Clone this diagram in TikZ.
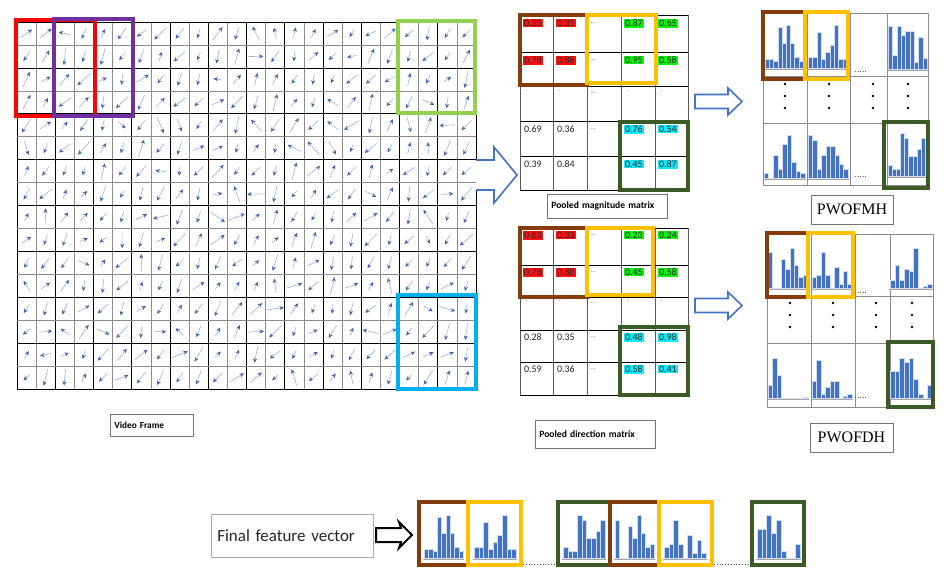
\documentclass[tikz,border=0pt]{standalone}
\usepackage{fontspec}
\setmainfont{Carlito}
\newfontfamily\pwserif{Liberation Serif}
\usetikzlibrary{arrows.meta}
\definecolor{fbrown}{HTML}{843C0C}
\definecolor{fgold}{HTML}{FFC000}
\definecolor{fdkgreen}{HTML}{3B5A26}
\definecolor{flgreen}{HTML}{92D050}
\definecolor{fcyan}{HTML}{00B0F0}
\definecolor{fpurple}{HTML}{7030A0}
\definecolor{fbar}{HTML}{4472C4}
\definecolor{farrowline}{HTML}{9AB2DE}
\definecolor{farrowhead}{HTML}{3F62A8}
\definecolor{hlred}{HTML}{FF1010}
\definecolor{hlgreen}{HTML}{10F010}
\definecolor{hlcyan}{HTML}{10E8F8}
\newcommand\histo[5]{%
  \draw[black!35, line width=0.5] (#1-1,#3+1.5) -- (#2+1,#3+1.5);
  \foreach \hh [count=\k from 0] in {#5}{%
    \fill[fbar] ({#1+\k*(#2-#1)/9},#3) rectangle ++({(#2-#1)/9},{-\hh*#4});
    \draw[white!75!fbar, line width=0.2] ({#1+\k*(#2-#1)/9},#3) rectangle ++({(#2-#1)/9},{-\hh*#4});
  }%
}
\tikzset{
  flowarrow/.style={draw=farrowline, line width=0.6, -{Stealth[length=4.5pt,width=4pt,color=farrowhead]}},
  selbox/.style={line width=4},
  mnum/.style={anchor=north west, inner sep=0.8pt, font=\fontsize{10}{12}\selectfont, text=black!85},
  mdots/.style={anchor=north west, inner sep=0.5pt, font=\fontsize{7}{8}\selectfont, text=black!55},
  hr/.style={fill=hlred},
  hg/.style={fill=hlgreen},
  hc/.style={fill=hlcyan},
  labelbox/.style={draw=black!55, line width=0.6, inner sep=0pt},
  blockarrow/.style={draw=fbar, line width=1.6, fill=white, line join=miter},
  hdot/.style={fill=black, draw=none, circle, inner sep=0pt, minimum size=2.8pt},
}
\begin{document}
\begin{tikzpicture}[x=1pt,y=-1pt]
\useasboundingbox (0,0) rectangle (945,581);
\fill[white] (0,0) rectangle (945,581);

% ---------------- video frame grid ----------------
\foreach \i in {0,...,24}{
  \ifodd\i
    \draw[black!45, line width=0.6] ({17+\i*19.125},22) -- ++(0,367);
  \else
    \draw[black, line width=0.7] ({17+\i*19.125},22) -- ++(0,367);
  \fi
}
\foreach \j in {0,...,16}{
  \ifodd\j
    \draw[black!45, line width=0.6] (17,{22+\j*22.9375}) -- ++(459,0);
  \else
    \draw[black, line width=0.7] (17,{22+\j*22.9375}) -- ++(459,0);
  \fi
}
\pgfmathsetseed{31}
\foreach \c in {0,...,23}{
  \foreach \r in {0,...,15}{
    \pgfmathsetmacro\ang{rnd<0.45 ? 215+rnd*50 : (rnd<0.5 ? 20+rnd*60 : rnd*360)}
    \pgfmathsetmacro\len{4+rnd*5}
    \pgfmathsetmacro\cx{17+(\c+0.5)*19.125}
    \pgfmathsetmacro\cy{22+(\r+0.5)*22.9375}
    \draw[flowarrow] ({\cx-\len*cos(\ang)},{\cy+\len*sin(\ang)}) -- ({\cx+\len*cos(\ang)},{\cy-\len*sin(\ang)});
  }
}
\draw[selbox, red] (16,20) rectangle (95,116);
\draw[selbox, fpurple] (54,19) rectangle (133,116);
\draw[selbox, flgreen] (398,21) rectangle (475,113);
\draw[selbox, fcyan] (398,295) rectangle (476,389);

\node[labelbox, anchor=west, minimum height=22, text width=75pt, inner xsep=4pt,
  font=\bfseries\fontsize{9.3}{10}\selectfont] (vf) at (110,425) {Video Frame};

% ---------------- big arrow grid -> matrix ----------------
\draw[blockarrow] (476,160) -- (494,160) -- (494,147) -- (517,175) -- (494,203) -- (494,190) -- (476,190);

% ---------------- pooled magnitude matrix ----------------
\foreach \x in {520,553,587,621,655,688}{\draw[black!65, line width=0.7] (\x,15) -- (\x,190);}
\foreach \y in {15,52,86,121,156,190}{\draw[black, line width=0.7] (520,\y) -- (688,\y);}
\node[mnum,hr] (a00) at (523,19) {0.35};
\node[mnum,hr] (a01) at (556,19) {0.35};
\node[mdots]   (a02) at (590,22) {...};
\node[mnum,hg] (a03) at (624,19) {0.87};
\node[mnum,hg] (a04) at (658,19) {0.65};
\node[mnum,hr] (a10) at (523,56) {0.78};
\node[mnum,hr] (a11) at (556,56) {0.88};
\node[mdots]   (a12) at (590,59) {...};
\node[mnum,hg] (a13) at (624,56) {0.95};
\node[mnum,hg] (a14) at (658,56) {0.58};
\node[mdots]   (a20) at (525,90) {.};
\node[mdots]   (a21) at (558,90) {.};
\node[mdots]   (a22) at (590,92) {...};
\node[mdots]   (a23) at (626,90) {.};
\node[mdots]   (a24) at (660,90) {.};
\node[mnum]    (a30) at (523,125) {0.69};
\node[mnum]    (a31) at (556,125) {0.36};
\node[mdots]   (a32) at (590,128) {...};
\node[mnum,hc] (a33) at (624,125) {0.76};
\node[mnum,hc] (a34) at (658,125) {0.54};
\node[mnum]    (a40) at (523,160) {0.39};
\node[mnum]    (a41) at (556,160) {0.84};
\node[mnum,hc] (a43) at (624,160) {0.45};
\node[mnum,hc] (a44) at (658,160) {0.87};
\draw[selbox, fbrown] (520,15) rectangle (587,85);
\draw[selbox, fgold] (587,15) rectangle (656,83);
\draw[selbox, fdkgreen] (620,122) rectangle (688,190);
\node[labelbox, anchor=west, minimum height=24, text width=112pt, inner xsep=4pt,
  font=\bfseries\fontsize{9.6}{11}\selectfont] (pmm) at (547,206) {Pooled magnitude matrix};

% ---------------- pooled direction matrix ----------------
\foreach \x in {520,553,587,621,655,688}{\draw[black!65, line width=0.7] (\x,228) -- (\x,395);}
\foreach \y in {228,265,297,330,362,395}{\draw[black, line width=0.7] (520,\y) -- (688,\y);}
\node[mnum,hr] (b00) at (523,231) {0.63};
\node[mnum,hr] (b01) at (556,231) {0.33};
\node[mdots]   (b02) at (590,234) {...};
\node[mnum,hg] (b03) at (624,231) {0.23};
\node[mnum,hg] (b04) at (658,231) {0.24};
\node[mnum,hr] (b10) at (523,268) {0.78};
\node[mnum,hr] (b11) at (556,268) {0.88};
\node[mdots]   (b12) at (590,271) {...};
\node[mnum,hg] (b13) at (624,268) {0.45};
\node[mnum,hg] (b14) at (658,268) {0.58};
\node[mdots]   (b20) at (525,300) {.};
\node[mdots]   (b21) at (558,300) {.};
\node[mdots]   (b22) at (590,302) {...};
\node[mdots]   (b23) at (626,300) {.};
\node[mdots]   (b24) at (660,300) {.};
\node[mnum]    (b30) at (523,333) {0.28};
\node[mnum]    (b31) at (556,333) {0.35};
\node[mdots]   (b32) at (590,336) {...};
\node[mnum,hc] (b33) at (624,333) {0.48};
\node[mnum,hc] (b34) at (658,333) {0.98};
\node[mnum]    (b40) at (523,365) {0.59};
\node[mnum]    (b41) at (556,365) {0.36};
\node[mdots]   (b42) at (590,368) {...};
\node[mnum,hc] (b43) at (624,365) {0.58};
\node[mnum,hc] (b44) at (658,365) {0.41};
\draw[selbox, fbrown] (520,228) rectangle (587,297);
\draw[selbox, fgold] (587,228) rectangle (653,295);
\draw[selbox, fdkgreen] (620,327) rectangle (688,395);
\node[labelbox, anchor=west, minimum height=28, text width=112pt, inner xsep=4pt,
  font=\bfseries\fontsize{9.6}{11}\selectfont] (pdm) at (535,434) {Pooled direction matrix};

% ---------------- arrows matrix -> histograms ----------------
\draw[blockarrow] (695,94.5) -- (728,94.5) -- (728,88) -- (742,101.5) -- (728,115) -- (728,108.5) -- (695,108.5) -- cycle;
\draw[blockarrow] (695,298.5) -- (728,298.5) -- (728,292) -- (742,305.5) -- (728,319) -- (728,312.5) -- (695,312.5) -- cycle;

% ---------------- PWOFMH ----------------
\foreach \x in {763,807,850,887,928}{\draw[black!45, line width=0.7] (\x,13) -- (\x,185);}
\foreach \y in {13,76,123,185}{\draw[black!45, line width=0.7] (763,\y) -- (928,\y);}
\histo{765}{803}{68}{45}{0.2,0.2,0.15,0.9,0.55,0.95,0.55,0.25,0.15}
\histo{808}{847}{68}{45}{0.25,0.25,0.8,0.2,0.35,0.5,0.95,0.2,0.2}
\histo{888}{927}{69}{45}{0.95,0.3,0.95,0.75,0.85,0.85,0.15,0.7,0.25}
\histo{764}{805}{178}{45}{0.1,0.0,0.5,0.2,0.75,0.95,0.35,0.15,0.12}
\histo{808}{848}{178}{45}{0.95,0.85,0.2,0.5,0.7,0.7,0.5,0.3,0.2}
\histo{888}{925}{176}{45}{0.25,0.15,0.15,0.95,0.85,0.45,0.45,0.6,0.85}
\draw[black!60, dotted, line width=0.6] (855,71) -- (866,71);
\draw[black!60, dotted, line width=0.6] (855,176) -- (866,176);
\foreach \x [count=\k] in {785,829,873,908}{
  \node[hdot] (mdA\k) at (\x,84) {};
  \node[hdot] (mdB\k) at (\x,96) {};
  \node[hdot] (mdC\k) at (\x,108) {};
}
\draw[selbox, fbrown] (763,12) rectangle (805,79);
\draw[selbox, fgold] (805,12) rectangle (848,79);
\draw[selbox, fdkgreen] (884,122) rectangle (928,188);
\node[labelbox, minimum width=82, minimum height=29, font=\pwserif\fontsize{16}{18}\selectfont] (pwm) at (852,209.5) {PWOFMH};

% ---------------- PWOFDH ----------------
\foreach \x in {767,811,855,890,933}{\draw[black!45, line width=0.7] (\x,234) -- (\x,407);}
\foreach \y in {234,296,343,407}{\draw[black!45, line width=0.7] (767,\y) -- (933,\y);}
\histo{768}{807}{288}{42}{0.85,0,0,0.7,0.45,0.95,0.55,0.25,0.3}
\histo{812}{852}{288}{42}{0.25,0.3,0.85,0.3,0,0.5,0.1,0.4,0.1}
\histo{890}{932}{288}{42}{0.2,0.55,0.2,0.45,0.4,0.95,0,0.05,0.1}
\histo{768}{808}{398}{42}{0.3,0.95,0.55,0,0,0,0,0,0.02}
\histo{812}{852}{398}{42}{0.4,0.9,0.1,0.25,0.4,0.4,0,0.05,0.1}
\histo{890}{932}{398}{42}{0.65,0.65,0.95,0.85,0.95,0.45,0.1,0,0.3}
\draw[black!60, dotted, line width=0.6] (855,292) -- (866,292);
\draw[black!60, dotted, line width=0.6] (855,397) -- (866,397);
\foreach \x [count=\k] in {790,833,876,912}{
  \node[hdot] (ddA\k) at (\x,303) {};
  \node[hdot] (ddB\k) at (\x,315) {};
  \node[hdot] (ddC\k) at (\x,327) {};
}
\draw[selbox, fbrown] (767,233) rectangle (808,297);
\draw[selbox, fgold] (808,233) rectangle (853,297);
\draw[selbox, fdkgreen] (888,342) rectangle (933,407);
\node[labelbox, minimum width=83, minimum height=29, font=\pwserif\fontsize{16}{18}\selectfont] (pwd) at (851.5,437.5) {PWOFDH};

% ---------------- final feature vector ----------------
\node[draw=black!35, line width=0.6, anchor=west, minimum height=43, text width=150pt, inner xsep=6pt,
  font=\fontsize{17}{20}\selectfont, text=black!85] (ffv) at (211,535.5) {Final feature vector};
\draw[black, line width=2, line join=miter, fill=white] (376,528) -- (401,528) -- (399,522) -- (412,535) -- (399,548) -- (401,542) -- (376,542) -- cycle;

\histo{424}{463}{558}{45}{0.2,0.2,0.15,0.9,0.55,0.95,0.55,0.25,0.15}
\histo{474}{516}{558}{45}{0.25,0.25,0.8,0.2,0.35,0.5,0.95,0.2,0.2}
\histo{563}{605}{558}{45}{0.25,0.15,0.15,0.95,0.85,0.45,0.45,0.6,0.85}
\histo{615}{654}{558}{45}{0.85,0,0,0.7,0.45,0.95,0.55,0.25,0.3}
\histo{664}{706}{558}{45}{0.25,0.3,0.85,0.3,0,0.5,0.1,0.4,0.1}
\histo{757}{800}{558}{45}{0.65,0.65,0.95,0.55,0.85,0.15,0,0,0.3}
\draw[selbox, fbrown] (419,502) rectangle (468,565);
\draw[selbox, fgold] (468,502) rectangle (521,565);
\draw[selbox, fdkgreen] (558,502) rectangle (610,565);
\draw[selbox, fbrown] (610,502) rectangle (659,565);
\draw[selbox, fgold] (659,502) rectangle (712,565);
\draw[selbox, fdkgreen] (752,502) rectangle (804,565);
\draw[fbar!70!black, dotted, line width=0.8] (523,564) -- (556,564);
\draw[fbar!70!black, dotted, line width=0.8] (714,564) -- (750,564);
\end{tikzpicture}
\end{document}
